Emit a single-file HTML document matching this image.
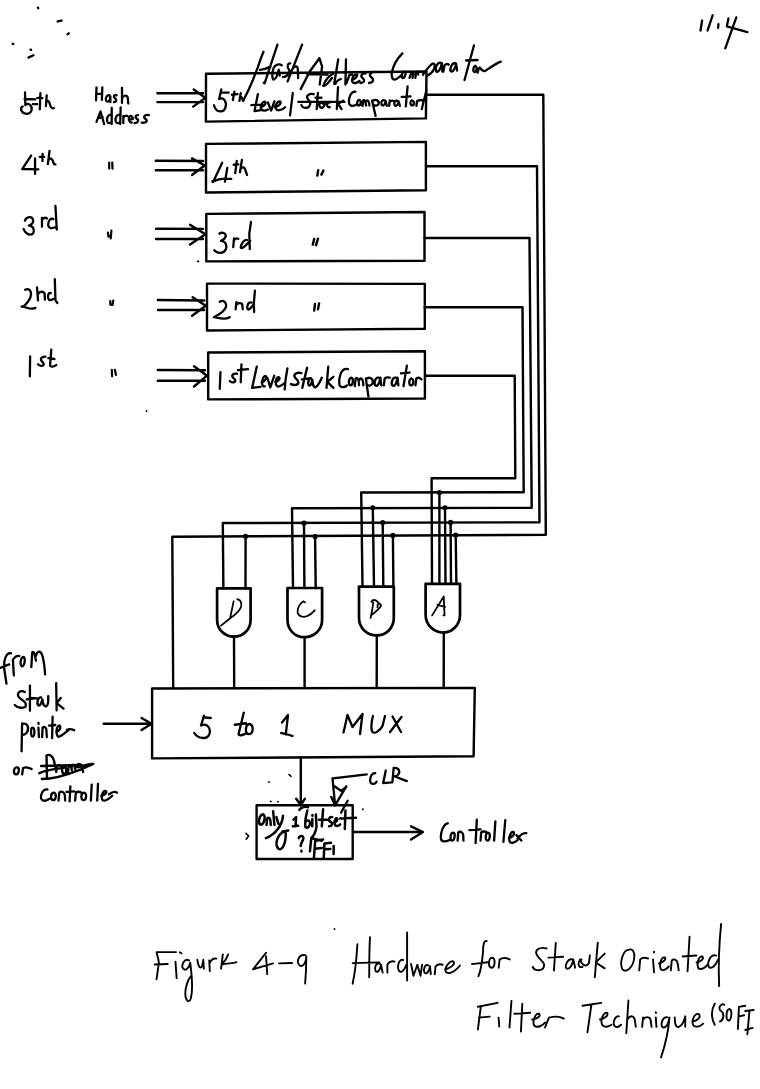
<!DOCTYPE html>
<html><head><meta charset="utf-8"><style>
html,body{margin:0;padding:0;background:#fff;}
body{width:760px;height:1089px;overflow:hidden;}
svg{display:block;}
</style></head><body>
<svg width="760" height="1089" viewBox="0 0 760 1089">
<rect width="760" height="1089" fill="#fff"/>
<g fill="none" stroke="#000" stroke-width="2.4" stroke-linecap="round" stroke-linejoin="round" id="lines">
<!-- boxes -->
<path d="M206 73.8 L426.5 71.5 L425.9 118.4 L205.9 121.6 Z"/>
<path d="M206 143.9 L425.9 141.9 L425.9 190.2 L206 192.5 Z"/>
<path d="M206.3 213.9 L424.5 212 L424.5 260.8 L206.3 261.4 Z"/>
<path d="M207 283.6 L424.8 283.9 L424.8 328.7 L207 330.5 Z"/>
<path d="M208.2 352.5 L424.9 351.3 L424.9 398.5 L208.2 399.4 Z"/>
<!-- input arrows -->
<path d="M157.4 93.2 L203 93.2 M157.4 102.1 L203 102.1 M193.7 89.5 L205.3 97.9 L193.2 106.6"/>
<path d="M155.8 160.8 L203 161 M155.8 170.3 L203 170.3 M192 158.4 L204.7 165.5 L192 175"/>
<path d="M156 228.7 L203 228.9 M156 239 L203 239 M190 224.7 L205.5 234.2 L190 244.5"/>
<path d="M157.9 300 L204 300.5 M158 310 L204 310 M192.6 297.2 L205.8 305.8 L192.1 315.8"/>
<path d="M157.8 370 L205 370.3 M157.8 380.7 L205 380.7 M194 366.2 L207 375.7 L194 386.5"/>
<!-- output buses -->
<path d="M426.3 94.7 L543.3 94.7 L545.8 534.8 L172.3 536.7 L173.2 688"/>
<path d="M426 166.3 L537 166.3 L539.5 522.3 L222.8 523 L223.4 588.4"/>
<path d="M424.6 238 L529.5 238 L531.7 507.8 L292 508.3 L293 588"/>
<path d="M424.6 307.3 L522.5 307.3 L523.7 492.3 L361.2 492.5 L362.5 586.6"/>
<path d="M425.3 375.8 L514.7 375.8 L515.3 478.3 L431.6 478.3 L432 583.8"/>
<!-- drops from dots -->
<path d="M245.6 536.3 L245.5 588.4 M304 523 L304.4 588 M315.1 536.5 L315.7 588 M372.8 507.8 L374 586.6 M382.7 522.5 L383.3 586.6 M392.9 535.4 L393.4 586.6 M439.4 492.5 L439.4 583.8 M445 507.8 L445.5 583.8 M450.6 522.4 L451 583.8 M455.7 535 L456.4 583.8"/>
<!-- gates --><g stroke-width="2.7">
<path d="M217.1 588.4 L250.6 588.4 L250.6 619.7 C250.6 630 243 636.7 234 636.7 C225 636.7 217.1 630 217.1 619.7 Z"/>
<path d="M287.5 588 L322.1 588 L322.1 620 C322.1 630 314 637.2 304.6 637.2 C295 637.2 287.5 630 287.5 620 Z"/>
<path d="M359 586.6 L393.8 586.6 L393.8 618 C393.8 628 386 635.4 376.8 635.4 C367 635.4 359 628 359 618 Z"/>
<path d="M425.6 583.8 L460 583.8 L460 615 C460 625 452 632.6 443.5 632.6 C434 632.6 425.6 625 425.6 615 Z"/>
</g><!-- gate outputs -->
<path d="M234 636.7 L234.2 688 M304.6 637.2 L304.6 688 M376.8 635.4 L376.7 687.5 M443.8 632.6 L443.7 687.5"/>
<!-- MUX -->
<path d="M152.1 688.5 L474.8 687.9 L473.6 756.3 L152.1 758.4 Z"/>
<path d="M103.7 723.7 L151 723.7 M141.6 718 L151.5 723.7 L141.6 730"/>
<!-- down arrow -->
<path d="M300.8 757.7 L300.8 804 M296.2 798.8 L300.8 805 L304.8 798.8"/>
<!-- small box -->
<path d="M256.6 805.2 L352.7 805.2 L352.7 859 L256.6 859 Z"/>
<!-- output arrow -->
<path d="M353 832 L422.5 832 M411 826.3 L423 832 L411 839.5"/>
</g>
<g fill="#000" id="dots">
<circle cx="245.6" cy="536.3" r="2.6"/><circle cx="304" cy="523" r="2.6"/><circle cx="315.1" cy="536.5" r="2.6"/>
<circle cx="372.8" cy="507.8" r="2.6"/><circle cx="382.7" cy="522.5" r="2.6"/><circle cx="392.9" cy="535.4" r="2.6"/>
<circle cx="439.4" cy="492.5" r="2.6"/><circle cx="445" cy="507.8" r="2.6"/><circle cx="450.6" cy="522.4" r="2.6"/><circle cx="455.7" cy="535" r="2.6"/>
</g>

<g fill="none" stroke="#000" stroke-linecap="round" stroke-linejoin="round">
<g transform="translate(680,0) scale(0.105263)"><path d="M210,195 L195,290 M310,145 L262,290 M365,230 L362,265 M460,175 L445,250 L640,305 M535,165 L430,460" vector-effect="non-scaling-stroke" stroke-width="2.3"/></g>
<g transform="translate(0,0) scale(0.157895)"><path d="M240,48 L242,52 M365,136 L390,130 M428,217 L436,211 M80,277 L84,279 M193,314 L197,316 M180,365 L212,350" vector-effect="non-scaling-stroke" stroke-width="2.3"/></g>
<g transform="translate(10,84) scale(0.078947)"><path d="M190,105 L195,270 M185,190 L320,195 M195,265 C240,230 290,280 270,340 C250,390 170,390 145,340 C135,310 145,290 160,285 M290,255 L345,255 M385,115 L378,320 M345,175 L410,180 M465,145 L455,280 M460,230 C480,190 500,230 510,270 C520,300 540,315 555,305" vector-effect="non-scaling-stroke" stroke-width="2.3"/></g>
<g transform="translate(88,82) scale(0.089474)"><path d="M95,60 L90,205 M160,60 L155,200 M90,135 L160,130 M240,150 C215,140 195,170 200,200 C205,230 235,225 245,195 L250,160 L250,225 M320,150 C290,140 280,165 300,180 C320,195 325,220 290,225 M380,65 L380,235 M385,175 C400,145 440,145 445,180 L450,240 M95,445 L140,330 L180,470 M115,400 L165,395 M260,370 C225,360 205,400 215,440 C225,470 255,465 265,440 M265,290 L265,470 M355,370 C320,360 300,400 310,440 C320,470 350,465 360,440 M365,285 L360,470 M395,380 L395,460 M395,400 C410,375 430,375 440,380 M455,420 L500,415 C505,390 480,370 465,385 C450,400 455,450 490,455 M560,370 C530,370 520,395 545,410 C570,425 565,455 520,460 M680,370 C640,360 610,390 640,410 C670,430 660,460 600,455" vector-effect="non-scaling-stroke" stroke-width="2.3"/></g>
<g transform="translate(14,145) scale(0.065789)"><path d="M260,160 L125,365 L370,370 M320,205 L320,440 M435,135 L432,245 M390,180 L460,180 M540,90 L515,290 M520,230 C540,190 580,200 595,250 C600,280 610,300 630,295" vector-effect="non-scaling-stroke" stroke-width="2.3"/></g>
<g transform="translate(14,202) scale(0.065789)"><path d="M165,285 C190,215 275,215 290,270 C298,310 265,345 225,360 C290,360 315,420 295,470 C270,515 180,505 145,410 M425,240 L425,375 M425,270 C450,240 480,235 500,250 M600,260 C560,240 520,280 520,340 C520,400 560,410 640,380 M630,60 L650,420" vector-effect="non-scaling-stroke" stroke-width="2.3"/></g>
<g transform="translate(14,274) scale(0.065789)"><path d="M170,240 C215,215 265,245 258,320 C250,390 190,450 150,490 L115,495 M150,500 C200,505 240,550 325,515 M350,205 L365,400 M370,300 C390,260 450,260 465,300 L470,390 M560,290 C520,280 510,330 520,370 C530,410 560,400 600,380 M620,80 L630,400 L660,440" vector-effect="non-scaling-stroke" stroke-width="2.3"/></g>
<g transform="translate(20,348) scale(0.057895)"><path d="M175,145 L170,490 M440,150 C400,150 350,170 365,210 C380,240 420,260 410,290 C395,320 340,310 310,280 M540,30 L520,300 C520,330 580,330 625,295 M490,175 L595,190" vector-effect="non-scaling-stroke" stroke-width="2.3"/></g>
<g transform="translate(0,0) scale(1.000000)"><path d="M109.2,162.5 L109.2,168.6 M112.3,162.6 L112.5,168.6 M107.9,232.5 L108.5,236.6 L110.1,236 M111.4,230.5 L110.7,238.3 M110.3,301 L110.3,304.6 L112.6,304.9 L113.3,300.5 M111.8,369.8 L112.1,376.3 M114.9,369.8 L115.9,374.9" vector-effect="non-scaling-stroke" stroke-width="2.2"/></g>
<g transform="translate(206,40) scale(0.105263)"><path d="M145,470 L125,560 M140,500 L215,500 M125,560 C170,540 200,590 185,640 C170,690 100,700 75,620 M270,490 L255,570 M245,520 L300,515 M330,505 L318,578 M322,550 C330,530 345,540 350,578" vector-effect="non-scaling-stroke" stroke-width="2.3"/></g>
<g transform="translate(246,80) scale(0.118421)"><path d="M100,120 L72,262 L140,252 M45,213 L130,208 M125,228 C150,222 172,200 162,185 C145,176 118,215 126,242 C134,265 165,262 185,250 M185,190 L212,258 L240,180 M245,228 C275,222 300,200 290,183 C270,175 242,212 250,240 C258,262 300,262 330,230 M395,110 L372,298" vector-effect="non-scaling-stroke" stroke-width="2.3"/></g>
<g transform="translate(296,80) scale(0.118421)"><path d="M150,120 C110,110 80,135 100,160 C120,180 130,200 110,225 C90,245 50,235 45,210 M185,110 L175,245 M165,150 L215,150 M230,200 C210,180 190,200 200,225 C215,245 240,230 245,200 M285,190 C258,185 252,230 285,230 M355,60 L345,245 M400,175 L355,200 L385,245 M20,185 L410,185" vector-effect="non-scaling-stroke" stroke-width="2.3"/></g>
<g transform="translate(346,78) scale(0.118421)"><path d="M80,115 C40,110 20,170 25,210 C30,240 60,240 85,225 M110,185 C90,190 90,235 110,232 C130,228 130,190 110,185 M140,235 L145,190 C155,180 165,195 170,232 M168,200 C180,180 195,190 198,232 M220,190 L250,320 M225,195 C250,175 285,190 275,220 C265,240 240,235 230,225 M330,190 C310,180 290,200 300,225 C310,240 330,230 335,195 L345,235 M365,235 L370,190 M368,205 C380,190 395,190 405,195 M440,195 C420,185 400,205 410,228 C420,245 440,230 445,200 L455,235 M520,70 L505,240 M470,160 L545,155 M555,190 C540,195 540,235 560,232 C580,228 580,195 555,190 M595,235 L600,195 C610,185 625,190 640,185 L655,200 M680,100 L640,262" vector-effect="non-scaling-stroke" stroke-width="2.3"/></g>
<g transform="translate(206,145) scale(0.078947)"><path d="M205,225 L90,470 L80,460 M85,465 C150,430 250,420 320,430 M270,290 L240,465 M390,200 L370,355 M350,250 L410,245 M455,190 L430,345 M440,300 C460,270 490,280 500,320 L520,380" vector-effect="non-scaling-stroke" stroke-width="2.3"/></g>
<g transform="translate(0,0) scale(1.000000)"><path d="M318.2,170.3 L317.3,175.6 M323.4,170.5 L321.4,174.6 M314.2,238.9 L312.8,244.6 M318,238.7 L316,245.2 M315,303.9 L314.2,310.6 M319.1,303.5 L318,309.4" vector-effect="non-scaling-stroke" stroke-width="2.4"/></g>
<g transform="translate(206,214) scale(0.078947)"><path d="M170,250 C200,225 255,240 250,280 C245,310 215,330 190,340 C250,340 270,400 250,450 C225,510 140,500 105,460 M355,310 L345,420 M350,340 C370,310 395,305 410,315 M520,330 C480,320 445,380 440,420 C440,440 470,430 500,400 L560,340 M570,100 L548,250 L555,445" vector-effect="non-scaling-stroke" stroke-width="2.3"/></g>
<g transform="translate(206,284) scale(0.078947)"><path d="M175,225 C210,200 260,220 255,280 C250,330 180,380 100,420 M110,420 C170,430 230,460 300,420 M385,230 L375,320 M380,270 C400,235 450,235 460,260 L465,320 M575,235 C530,215 515,300 530,320 C545,335 575,300 605,250 M620,85 L605,250 L610,355" vector-effect="non-scaling-stroke" stroke-width="2.3"/></g>
<g transform="translate(206,352) scale(0.144737)"><path d="M100,140 L95,255 M215,150 C190,145 175,160 185,175 C195,185 210,195 200,205 C190,215 170,210 165,200 M245,85 L240,210 M220,125 L290,118" vector-effect="non-scaling-stroke" stroke-width="2.3"/></g>
<g transform="translate(300,352) scale(0.171053)"><path d="M165,85 L155,210 M195,145 L160,175 L195,210 M280,100 C240,90 225,150 230,190 C235,210 260,210 275,195 M300,150 C285,150 280,190 295,195 C310,195 315,155 300,150 M320,200 L325,155 C335,145 345,160 345,195 M345,165 C355,145 370,155 370,195 M385,155 L400,260 M385,160 C405,140 430,155 425,180 C420,200 400,200 390,190 M460,150 C440,145 430,185 440,195 C455,205 465,180 470,150 L475,195 M490,195 L495,155 C505,145 515,148 525,150 M560,150 C540,145 530,185 540,195 C555,205 565,180 570,150 L575,195 M625,80 L605,200 M590,125 L640,120 M650,155 C635,160 635,195 650,195 C665,193 668,160 650,155 M675,195 L680,155 C690,148 700,150 710,160" vector-effect="non-scaling-stroke" stroke-width="2.3"/></g>
<g transform="translate(216,594) scale(0.052632)"><path d="M335,140 L270,450 M405,100 C470,110 500,170 470,260 C430,350 330,420 270,460 L95,600" vector-effect="non-scaling-stroke" stroke-width="1.8"/></g>
<g transform="translate(286,594) scale(0.052632)"><path d="M360,160 L330,140 C270,170 210,270 220,350 C240,430 320,450 400,420 C470,390 520,340 545,310" vector-effect="non-scaling-stroke" stroke-width="1.8"/></g>
<g transform="translate(358,592) scale(0.052632)"><path d="M255,185 C280,140 340,140 375,190 L440,255 C410,320 320,390 250,440 M290,200 C280,300 260,400 240,490 M375,230 L370,290" vector-effect="non-scaling-stroke" stroke-width="1.8"/></g>
<g transform="translate(424,588) scale(0.052632)"><path d="M155,520 L375,160 L390,520 L370,520 M255,320 L400,360" vector-effect="non-scaling-stroke" stroke-width="1.8"/></g>
<g transform="translate(186,706) scale(0.150000)"><path d="M120,65 L100,130 M115,75 L165,80 M100,130 C140,110 170,150 155,190 C140,225 80,220 55,180 M385,45 L350,190 C355,200 380,195 395,185 M325,125 L400,115 M420,120 C395,125 390,190 420,188 C450,185 455,125 420,120 M640,110 L680,60 L665,190 M635,180 C660,185 690,190 710,200" vector-effect="non-scaling-stroke" stroke-width="2.3"/></g>
<g transform="translate(336,706) scale(0.100000)"><path d="M75,265 L115,90 L165,210 L265,80 L240,280 M370,100 C355,150 345,230 365,260 C385,280 440,250 465,200 L490,100 M565,105 L650,260 M655,110 L540,260" vector-effect="non-scaling-stroke" stroke-width="2.3"/></g>
<g transform="translate(0,645) scale(0.092105)"><path d="M120,90 C70,80 40,150 45,250 L70,420 M0,250 L100,210 M150,330 L140,160 C160,130 180,110 210,120 M260,130 C230,120 210,200 235,230 C260,240 275,180 265,140 M340,240 L350,80 C370,60 380,110 390,170 M390,120 C400,70 430,60 450,90 C475,140 485,250 490,320 M270,510 C230,490 180,510 200,560 C220,600 290,600 280,660 C270,690 190,690 160,650 M325,440 L325,715 M290,590 L370,580 M610,415 L615,710 M660,575 L615,630 L690,690" vector-effect="non-scaling-stroke" stroke-width="2.3"/></g>
<g transform="translate(10,715) scale(0.105263)"><path d="M115,80 L110,345 M115,85 C160,70 185,110 165,160 C150,190 125,190 115,180 M215,120 C195,120 195,200 215,205 C235,205 240,125 215,120 M270,120 L275,210 M270,75 L272,85 M305,210 L310,120 C320,110 340,110 345,135 L350,210 M405,15 L400,220 M370,100 L430,95 M440,160 C470,150 490,120 470,100 C445,95 430,170 455,205 C470,215 510,180 560,140 M540,140 C570,130 590,135 610,145" vector-effect="non-scaling-stroke" stroke-width="2.3"/></g>
<g transform="translate(8,750) scale(0.157895)"><path d="M60,110 C35,105 30,150 50,155 C70,155 75,115 60,110 M90,155 L95,115 C110,105 130,110 150,120 M250,250 C215,245 200,300 215,315 C225,325 245,320 260,310 M290,270 C270,270 265,315 285,318 C305,318 310,272 290,270 M320,320 L325,270 C335,260 355,262 360,285 L362,320 M395,230 L390,325 M370,265 L420,262 M425,320 L430,270 C440,262 455,265 465,270 M480,270 C462,272 458,315 478,318 C498,318 502,272 480,270 M530,220 L525,320 M570,215 L565,320 M590,290 C615,285 630,270 620,260 C600,255 585,300 600,318 C615,325 640,310 660,290 M640,280 C660,265 680,262 690,270" vector-effect="non-scaling-stroke" stroke-width="2.3"/></g>
<g transform="translate(320,760) scale(0.131579)"><path d="M355,110 C300,115 200,130 95,140 L115,345 M85,280 L115,345 M200,200 C170,250 140,300 115,345 M110,200 L160,235 L200,205 M210,310 L160,400 M420,100 C380,100 370,170 395,180 C410,185 425,175 430,165 M500,80 L480,175 L545,170 M560,60 L550,170 M560,60 C600,55 615,90 590,115 C575,125 560,125 555,120 L660,160" vector-effect="non-scaling-stroke" stroke-width="2.3"/></g>
<g transform="translate(436,814) scale(0.123684)"><path d="M95,75 C60,80 35,150 40,200 C45,230 80,225 110,210 M140,150 C115,150 110,210 130,215 C150,218 160,155 140,150 M175,215 L180,150 C190,140 215,140 220,170 L222,215 M330,45 L320,235 M270,130 L360,125 M360,215 L365,150 C375,140 390,140 405,145 M420,150 C400,150 395,210 415,215 C435,218 445,155 420,150 M480,60 L470,215 M560,50 L545,225 M590,195 C620,185 640,160 625,145 C605,140 585,190 595,220 C605,245 640,230 660,210 M660,200 C680,170 700,150 730,155 M650,170 L690,215" vector-effect="non-scaling-stroke" stroke-width="2.3"/></g>
<g transform="translate(150,945) scale(0.118421)"><path d="M55,60 C60,80 70,110 75,150 L55,290 M55,60 L220,60 M40,165 L150,160 M215,140 L225,280 M252,62 L266,70 M330,130 C290,110 260,170 280,200 C300,220 330,200 340,150 C350,250 370,350 345,450 C330,500 290,470 300,380 C310,320 330,280 350,260 M400,125 C405,170 420,210 440,180 L450,125 L455,200 M500,130 L505,220 M505,150 C520,120 540,110 560,115 M615,80 C610,120 605,160 600,200 M605,165 C650,150 700,160 730,145 M605,165 C630,140 650,110 660,80" vector-effect="non-scaling-stroke" stroke-width="1.9"/></g>
<g transform="translate(150,935) scale(0.236842)"><path d="M490,75 L435,145 L520,120 M490,90 L495,165 M545,120 L600,118 M655,85 C625,80 615,120 635,130 C650,135 660,110 660,90 C660,140 658,170 655,205" vector-effect="non-scaling-stroke" stroke-width="1.9"/></g>
<g transform="translate(340,930) scale(0.157895)"><path d="M110,90 C105,180 95,270 80,340 M190,45 C185,130 185,220 185,300 M80,210 L250,205 M255,215 C230,200 215,240 225,260 C240,275 255,250 260,220 L270,270 M300,270 L300,220 C310,200 330,195 345,200 M400,190 C370,180 360,240 375,260 C390,275 410,250 420,220 M425,15 L425,320 M450,215 L465,290 L490,220 L510,290 L520,220 M560,225 C540,210 525,250 535,270 C550,285 565,260 570,230 L575,280 M600,280 L605,230 C620,215 635,215 650,220 M665,250 C700,240 730,220 720,200 C700,190 660,230 670,265 C680,280 720,275 760,225" vector-effect="non-scaling-stroke" stroke-width="1.9"/></g>
<g transform="translate(460,930) scale(0.184211)"><path d="M145,60 C130,55 125,80 125,120 C120,170 115,220 100,250 M65,185 L150,175 M175,150 C155,150 150,200 170,205 C190,205 195,155 175,150 M210,205 L215,160 C230,150 250,150 270,160 M470,100 C430,90 400,110 420,140 C440,170 470,180 450,210 C430,225 400,220 395,200 M520,70 L510,220 M480,150 L560,145 M610,160 C585,150 565,200 580,210 C595,215 610,190 615,160 L625,205 M660,160 C640,160 635,210 665,200" vector-effect="non-scaling-stroke" stroke-width="1.9"/></g>
<g transform="translate(580,920) scale(0.197368)"><path d="M0,200 C10,230 30,240 45,220 L50,180 M90,115 L75,290 M125,170 L80,215 L125,245 M250,150 C215,150 200,220 215,250 C235,270 270,240 275,190 C278,160 265,145 250,150 M300,255 L305,200 C315,190 330,190 345,195 M370,200 L375,265 M375,160 L375,165 M400,220 C420,215 440,200 430,190 C410,185 400,230 410,250 C420,260 440,250 450,235 M460,255 L465,205 C475,195 490,200 495,220 L500,255 M555,85 L545,260 M520,185 L590,180 M590,215 C615,210 630,195 620,185 C600,180 590,225 600,245 C615,255 640,240 650,220 M690,180 C660,170 640,220 655,240 C670,250 690,225 700,200 M715,20 C705,120 700,230 705,335" vector-effect="non-scaling-stroke" stroke-width="1.9"/></g>
<g transform="translate(470,990) scale(0.197368)"><path d="M55,85 C50,120 45,160 40,200 M40,85 L140,65 M45,140 L100,135 M145,140 L148,185 M210,55 L200,190 M265,70 L258,210 M225,120 L305,115 M315,150 C340,145 360,135 350,120 C330,115 315,160 325,180 C340,195 370,180 380,165 M380,190 L400,140 C420,135 450,130 475,145 M570,80 L665,65 M615,75 L595,215" vector-effect="non-scaling-stroke" stroke-width="1.9"/></g>
<g transform="translate(600,990) scale(0.210526)"><path d="M0,140 C20,135 40,125 35,110 C20,100 0,140 10,165 C20,180 40,175 55,165 M90,125 C70,120 55,165 75,175 C85,178 95,170 100,165 M135,50 L125,205 M130,140 C140,120 160,120 165,140 L170,175 M200,175 L205,130 M205,140 C215,125 235,125 240,140 L245,175 M265,130 L268,175 M265,105 L266,110 M320,130 C295,125 285,170 300,178 C315,180 325,160 330,130 C325,200 310,260 290,320 M355,130 C355,160 360,180 375,175 C390,170 400,145 405,125 L405,175 M440,150 C465,145 480,130 470,115 C450,105 430,150 445,170 C460,180 480,170 490,160 M545,65 C530,90 525,130 545,165 M590,70 C570,60 560,90 575,100 C590,110 590,140 570,150 M615,90 C600,90 595,140 610,145 C625,145 630,95 615,90 M660,80 L655,185 M660,80 L690,75 M660,125 L685,120 M690,100 L730,95 M710,100 L700,210 M690,190 L725,180" vector-effect="non-scaling-stroke" stroke-width="1.9"/></g>
<g transform="translate(0,0) scale(1.000000)"><path d="M263.5,51.7 C261,57.5 259.2,63 257.6,67.9 C255.5,73.5 252,82 250.2,86.3 C248.5,90.5 246,94.7 243.4,100.5" vector-effect="non-scaling-stroke" stroke-width="2.3"/></g>
<g transform="translate(260,40) scale(0.065789)"><path d="M0,455 C60,450 120,425 160,405 M265,70 L70,660 L58,648 M330,385 C300,355 230,370 205,430 C180,500 180,610 215,600 C245,590 270,520 285,450 L300,540 M460,355 C420,350 405,420 440,450 C470,480 420,560 350,565 M640,70 L420,630 M500,430 C540,385 570,395 575,440 L580,580" vector-effect="non-scaling-stroke" stroke-width="2.3"/></g>
<g transform="translate(0,0) scale(1.000000)"><path d="M319.4,58.2 L309.9,71.3 L300.7,89.1 L308,75 M319.4,58.2 L322.1,66.7 L319.7,84.5 M307.2,74 L327.6,74.6 M333,74 C330,75 325,80 323.3,85.8 C325,87 329,82 332,78 M338.2,59.5 L334.2,83.8 M340.8,79 C338,80 336,82 335.5,83.8 M346,59.5 L345.4,84.5 M346.5,83 L349.5,75 L352,74.5 M352,80 C355,79 358,76 357,74.5 C354,73.5 351,79 352.5,82 C354,84 357,83 359.5,81 M365.5,73.5 C362,73 360,76 362.5,78 C365,80 365,82.5 360.5,83 M374.5,72 C371,71.5 368.5,75 371,77 C374,79 374,82.5 369,83" vector-effect="non-scaling-stroke" stroke-width="2.3"/></g>
<g transform="translate(0,0) scale(1.000000)"><path d="M402.4,53.4 C397.6,58.2 392.9,66.1 391.7,73.2 C391.3,77.9 392.9,80.3 395.3,79.5 C397.6,78.7 400,76.3 401.6,74.7 M404.7,71.6 C402.4,71.6 400.8,76.3 402.4,77.9 C403.9,78.7 406.3,74.7 405.5,72.4 M409.5,77.9 L411.1,73.2 C412.2,71.2 413.4,72 413,74.7 L412.6,77.9 M413,73.9 C414.2,71.2 416.2,71.6 415.8,74.7 L415.4,77.9 M415.4,74.7 C416.6,71.6 418.2,71.6 418.2,74.7 M422.9,74.7 C425.3,71.6 428.4,66.8 432.4,63.7 C434.7,62.9 435.5,65.3 433.9,69.2 C432.4,73.2 429.2,74.7 427.6,75.5 M440.8,62.6 C436.6,62.1 434.5,69.5 436.6,71.6 C438.7,72.6 440.8,68.4 441.8,63.2 L442.4,71.6 M443.4,71.6 L444.5,65.3 C445.5,63.7 447.6,63.7 448.7,64.7 M455.5,63.2 C451.3,62.1 449.2,70.5 451.3,71.6 C453.4,72.1 455.5,67.4 456.1,63.7 L457.1,70.5 M474,45.3 L464.5,80 M466.1,60.5 L477.6,60 M475.5,65.8 C473.4,65.8 472.4,71.6 474.5,72.1 C476.6,72.1 477.6,67.4 475.5,65.8 M477.6,72.6 L478.7,68.4 M479.7,67.4 C481.8,70.5 483.4,71.6 485,71.1 C490.3,67.4 495.5,63.7 500.8,61.6" vector-effect="non-scaling-stroke" stroke-width="2.3"/></g>
<g transform="translate(0,0) scale(1.000000)"><path d="M41.1,697.4 C37.9,696.8 36.3,703.7 38.4,705.3 C40.5,706.1 41.8,702.1 42.4,699.5 C42.6,703.7 44.2,706.8 46.3,706.3 C47.9,705.8 48.4,701.1 48.2,696.3 M30,697.9 L36.8,698.4" vector-effect="non-scaling-stroke" stroke-width="2.4"/></g>
<g transform="translate(0,0) scale(1.000000)"><path d="M146.4,410.8 L146.8,411.2 M334.3,928.8 L334.7,929.2 M197.6,261.4 L198.6,261.4 M289,774.5 L291,776.3 M268.6,782 L269.4,782 M246,833.3 L248.6,836 L246.2,839.2 M270.5,801.3 L271,801.6 M277.6,801.8 L278.2,801.8" vector-effect="non-scaling-stroke" stroke-width="1.6"/></g>
<g transform="translate(36,750) scale(0.084211)"><path d="M130,320 L125,65 C160,45 200,70 215,130 L228,200 M60,190 C200,185 400,180 540,178 M40,275 C100,245 200,225 330,212 M70,345 C200,345 380,290 520,235 C580,210 640,185 680,165 C620,160 560,190 500,205 M240,260 L245,190 C260,180 280,180 290,190 M330,190 C305,190 300,280 335,285 C365,285 370,195 330,190 M380,260 L390,180 M390,200 C400,170 420,175 425,240 M425,200 C435,160 460,170 465,230 M470,210 C490,160 520,150 540,200 L560,260" vector-effect="non-scaling-stroke" stroke-width="2.4"/></g>
<g transform="translate(256,800) scale(0.131579)"><path d="M50,110 C25,115 15,170 30,185 C50,195 70,160 65,125 C62,110 55,108 50,110 M80,190 L85,140 C95,130 108,135 110,160 L112,190 M130,85 L140,190 M155,130 L170,180 M205,120 C200,190 150,260 75,290 M285,150 L305,130 L300,200 M280,200 L320,195 M330,75 C340,55 380,45 395,55 M390,80 C380,120 370,170 375,205 C390,220 415,200 410,170 C405,150 385,150 375,170 M428,145 L428,200 M428,115 L429,120 M455,110 L460,200 C455,240 440,270 420,290 L410,390 M510,70 L500,200 M480,150 L540,150 M580,130 C555,125 545,155 565,165 C585,175 580,200 555,200 M595,170 C615,165 625,150 615,140 C598,135 590,180 605,195 C615,200 630,195 640,185 M680,80 L675,220 M640,140 L760,135 M200,240 L245,232 M215,240 C160,260 140,340 170,370 C200,390 230,330 225,240 M325,290 C330,270 360,265 360,290 C360,310 340,320 340,350 M345,385 L345,392 M450,310 L440,440 M450,310 L510,300 M445,370 L500,365 M520,330 L515,440 M520,330 L570,325 M518,375 L565,372 M590,350 L590,410 M420,290 C450,300 480,300 500,310" vector-effect="non-scaling-stroke" stroke-width="2.5"/></g>
<g transform="translate(0,0) scale(1.000000)"><path d="M301.3,373.1 C298.1,372 293.9,373.6 294.4,376.2 C294.9,378.8 298.6,379.9 298.4,382.5 C298.1,385.2 293.9,385.7 291,384.1 M307.1,367.8 L302.3,387.8 M301.8,379.4 L310.7,378.3 M311.3,378.3 C309.2,377.8 307.1,383.1 308.6,385.2 C310.2,386.7 311.8,383.1 312.3,379.9 C312.6,384.7 313.8,387.8 315.5,387.3 C317.6,386.7 319.7,382.5 321.8,377.8" vector-effect="non-scaling-stroke" stroke-width="2.4"/></g>
<g transform="translate(0,0) scale(1.000000)"><path d="M256.8,366.6 L252.1,387.9 L260.5,386.8 M261.6,382.6 C263.7,382.1 266.8,378.9 266.3,376.8 C265.8,375.3 263.2,375.8 262.4,380 C261.6,383.7 262.6,387.4 264.7,386.3 M267.4,377.9 L270.3,387.4 L274.2,375.8 M275.3,382.1 C277.4,381.6 280,379.5 279.5,377.9 C278.7,376.3 276.3,377.4 275.8,381.1 C275.3,384.7 276.8,387.4 279.5,386.3 C281.6,385.3 283.2,384.2 284.2,383.2 M287.4,368.4 C286.3,373.7 285.3,380 284.7,389.5" vector-effect="non-scaling-stroke" stroke-width="2.3"/></g>
<g transform="translate(0,0) scale(1.000000)"><path d="M362.6,809 L363,809.4" vector-effect="non-scaling-stroke" stroke-width="1.6"/></g>
</g>
</svg>
</body></html>
